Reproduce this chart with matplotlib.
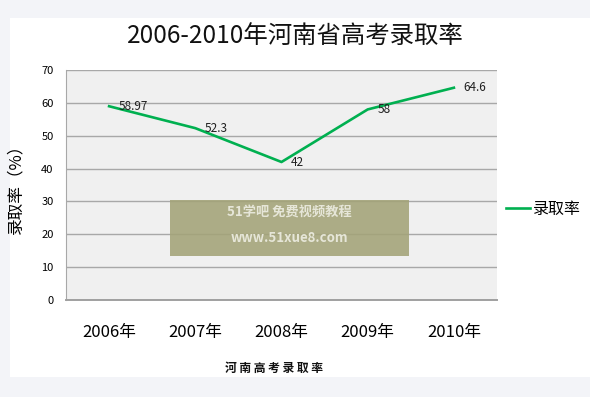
import matplotlib
matplotlib.use('Agg')
import matplotlib.pyplot as plt
from matplotlib.patches import Rectangle

plt.rcParams['font.family'] = ['Noto Sans CJK SC', 'DejaVu Sans']

# data
years = ['2006年', '2007年', '2008年', '2009年', '2010年']
rates = [58.97, 52.3, 42, 58, 64.6]
rate_labels = ['58.97', '52.3', '42', '58', '64.6']
yticks = [0, 10, 20, 30, 40, 50, 60, 70]

W, H = 590, 397
fig = plt.figure(figsize=(W / 100, H / 100), dpi=100)
fig.patch.set_facecolor('#f3f4f8')

# white panel behind the chart
fig.patches.append(Rectangle((10 / W, 1 - 377 / H), 1, (377 - 18) / H,
                             transform=fig.transFigure, facecolor='white',
                             edgecolor='none', zorder=-5))

ax = fig.add_axes([66 / W, 1 - 300 / H, 431 / W, 230 / H])
ax.set_facecolor('#f0f0f0')

x = list(range(len(years)))
ax.plot(x, rates, color='#00b050', linewidth=1.9, label='录取率', zorder=3)
for xi, yi, lab in zip(x, rates, rate_labels):
    ax.annotate(lab, (xi, yi), xytext=(7, 0), textcoords='offset points',
                ha='left', va='center', fontsize=8.5, color='#202020', zorder=4)

ax.set_xlim(-0.5, len(years) - 0.5)
ax.set_ylim(0, 70)
ax.set_xticks(x)
ax.set_xticklabels(years, fontsize=12)
ax.set_yticks(yticks)
ax.tick_params(axis='y', labelsize=8, length=0, pad=9)
ax.tick_params(axis='x', length=0, pad=17)
ax.yaxis.grid(True, color='#a8a8a8', linewidth=1)
ax.set_axisbelow(True)

# Box
ax.spines['top'].set_visible(False)
ax.spines['right'].set_visible(False)
ax.spines['left'].set_color('#a8a8a8')
ax.spines['bottom'].set_color('#a0a0a0')
ax.spines['bottom'].set_linewidth(1.4)

ax.set_ylabel('录取率（%）', fontsize=12, labelpad=12)

fig.text(295 / W, 1 - 36 / H, '2006-2010年河南省高考录取率', fontsize=17.6,
         ha='center', va='center', color='#111111')

lgd = ax.legend(loc='center left', bbox_to_anchor=(506 / W, 1 - 209 / H),
                bbox_transform=fig.transFigure, fontsize=11.5, frameon=False,
                handlelength=1.5, handletextpad=0.2, borderaxespad=0,
                borderpad=0)

# watermark box
fig.patches.append(Rectangle((170 / W, 1 - 256 / H), 239 / W, 56 / H,
                             transform=fig.transFigure, facecolor='#a3a377',
                             edgecolor='none', alpha=0.88, zorder=5))
fig.text(289 / W, 1 - 213 / H, '51学吧 免费视频教程', fontsize=9.5,
         ha='center', va='center', color='#e6e6d8', fontweight='bold', zorder=6)
fig.text(289 / W, 1 - 238 / H, 'www.51xue8.com', fontsize=9.5,
         ha='center', va='center', color='#e6e6d8', fontweight='bold', zorder=6)

fig.text(274 / W, 1 - 368 / H, '河 南 高 考 录 取 率', fontsize=8.5,
         ha='center', va='center', color='#111111', fontweight='bold')

fig.savefig('out.png', dpi=100, facecolor=fig.get_facecolor())
